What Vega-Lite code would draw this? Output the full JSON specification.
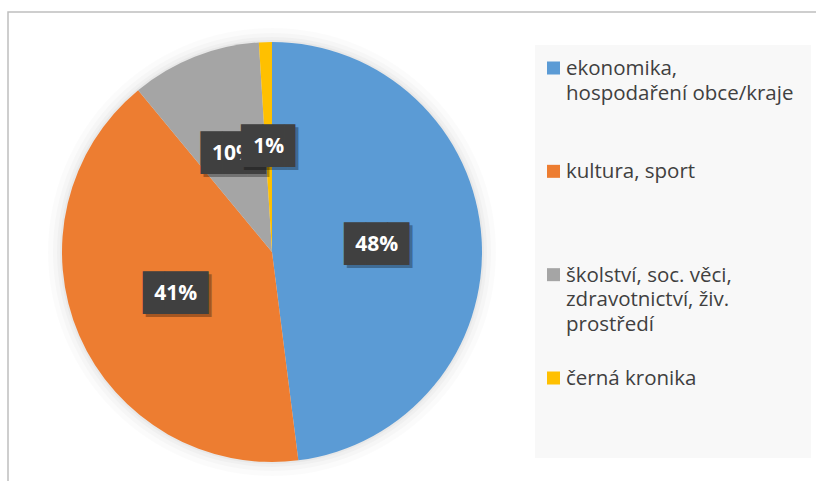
{
  "$schema": "https://vega.github.io/schema/vega-lite/v6.json",
  "width": 816,
  "height": 481,
  "autosize": {"type": "fit", "contains": "padding"},
  "padding": {"left": 8, "top": 12, "right": -12, "bottom": -20},
  "background": "#FFFFFF",
  "config": {"view": {"stroke": "#BFBFBF", "strokeWidth": 1.5}},
  "data": {
    "values": [
      {"kategorie": "ekonomika, hospodaření obce/kraje", "popisek": "ekonomika,\nhospodaření obce/kraje", "podil": 0.48},
      {"kategorie": "kultura, sport", "popisek": "kultura, sport", "podil": 0.41},
      {"kategorie": "školství, soc. věci, zdravotnictví, živ. prostředí", "popisek": "školství, soc. věci,\nzdravotnictví, živ.\nprostředí", "podil": 0.10},
      {"kategorie": "černá kronika", "popisek": "černá kronika", "podil": 0.01}
    ]
  },
  "layer": [
    {
      "data": {"values": [{}]},
      "mark": {"type": "rect", "x": 527, "x2": 803, "y": 33, "y2": 446, "fill": "#F8F8F8"},
      "encoding": {}
    },
    {
      "data": {"values": [{}]},
      "mark": {"type": "arc", "x": 264, "y": 240, "outerRadius": 224, "theta": 6.2832, "fill": "#000000", "fillOpacity": 0.015},
      "encoding": {}
    },
    {
      "data": {"values": [{}]},
      "mark": {"type": "arc", "x": 264, "y": 240, "outerRadius": 219, "theta": 6.2832, "fill": "#000000", "fillOpacity": 0.02},
      "encoding": {}
    },
    {
      "data": {"values": [{}]},
      "mark": {"type": "arc", "x": 264, "y": 240, "outerRadius": 215, "theta": 6.2832, "fill": "#000000", "fillOpacity": 0.025},
      "encoding": {}
    },
    {
      "data": {"values": [{}]},
      "mark": {"type": "arc", "x": 264, "y": 240, "outerRadius": 212, "theta": 6.2832, "fill": "#000000", "fillOpacity": 0.03},
      "encoding": {}
    },
    {
      "mark": {"type": "arc", "x": 264, "y": 240, "outerRadius": 210},
      "encoding": {
        "theta": {"field": "podil", "type": "quantitative", "stack": true},
        "order": {"field": "podil", "sort": "descending"},
        "color": {
          "field": "kategorie", "type": "nominal", "legend": null,
          "scale": {
            "domain": ["ekonomika, hospodaření obce/kraje", "kultura, sport", "školství, soc. věci, zdravotnictví, živ. prostředí", "černá kronika"],
            "range": ["#5B9BD5", "#ED7D31", "#A5A5A5", "#FFC000"]
          }
        }
      }
    },
    {
      "mark": {"type": "text", "x": 264, "y": 240, "radius": 105, "dx": 3, "dy": 3, "font": "DejaVu Sans Mono", "fontSize": 36, "align": "center", "baseline": "middle", "color": "#000000"},
      "encoding": {
        "theta": {"field": "podil", "type": "quantitative", "stack": true},
        "order": {"field": "podil", "sort": "descending"},
        "text": {"value": "███"},
        "opacity": {"condition": {"test": "datum.podil < 0.05", "value": 0}, "value": 0.3}
      }
    },
    {
      "mark": {"type": "text", "x": 264, "y": 240, "radius": 105, "font": "DejaVu Sans Mono", "fontSize": 36, "align": "center", "baseline": "middle", "color": "#404040"},
      "encoding": {
        "theta": {"field": "podil", "type": "quantitative", "stack": true},
        "order": {"field": "podil", "sort": "descending"},
        "text": {"value": "███"},
        "opacity": {"condition": {"test": "datum.podil < 0.05", "value": 0}, "value": 1}
      }
    },
    {
      "mark": {"type": "text", "x": 264, "y": 240, "radius": 105, "font": "Open Sans", "fontSize": 21, "fontWeight": "bold", "align": "center", "baseline": "middle", "color": "#FFFFFF"},
      "encoding": {
        "theta": {"field": "podil", "type": "quantitative", "stack": true},
        "order": {"field": "podil", "sort": "descending"},
        "text": {"field": "podil", "type": "quantitative", "format": ".0%"},
        "opacity": {"condition": {"test": "datum.podil < 0.05", "value": 0}, "value": 1}
      }
    },
    {
      "mark": {"type": "text", "x": 264, "y": 240, "radius": 105, "dx": 8, "dy": 3, "font": "DejaVu Sans Mono", "fontSize": 36, "align": "center", "baseline": "middle", "color": "#000000"},
      "encoding": {
        "theta": {"field": "podil", "type": "quantitative", "stack": true},
        "order": {"field": "podil", "sort": "descending"},
        "text": {"value": "██▌"},
        "opacity": {"condition": {"test": "datum.podil < 0.05", "value": 0.3}, "value": 0}
      }
    },
    {
      "mark": {"type": "text", "x": 264, "y": 240, "radius": 105, "dx": 5, "font": "DejaVu Sans Mono", "fontSize": 36, "align": "center", "baseline": "middle", "color": "#404040"},
      "encoding": {
        "theta": {"field": "podil", "type": "quantitative", "stack": true},
        "order": {"field": "podil", "sort": "descending"},
        "text": {"value": "██▌"},
        "opacity": {"condition": {"test": "datum.podil < 0.05", "value": 1}, "value": 0}
      }
    },
    {
      "mark": {"type": "text", "x": 264, "y": 240, "radius": 105, "font": "Open Sans", "fontSize": 21, "fontWeight": "bold", "align": "center", "baseline": "middle", "color": "#FFFFFF"},
      "encoding": {
        "theta": {"field": "podil", "type": "quantitative", "stack": true},
        "order": {"field": "podil", "sort": "descending"},
        "text": {"field": "podil", "type": "quantitative", "format": ".0%"},
        "opacity": {"condition": {"test": "datum.podil < 0.05", "value": 1}, "value": 0}
      }
    },
    {
      "mark": {"type": "square", "x": 545.5, "size": 169, "filled": true, "opacity": 1},
      "encoding": {
        "y": {
          "field": "kategorie", "type": "nominal", "axis": null,
          "scale": {"type": "point", "domain": ["ekonomika, hospodaření obce/kraje", "kultura, sport", "školství, soc. věci, zdravotnictví, živ. prostředí", "černá kronika"], "range": [56, 366], "padding": 0}
        },
        "color": {"field": "kategorie", "type": "nominal", "legend": null}
      }
    },
    {
      "mark": {"type": "text", "x": 558, "align": "left", "baseline": "alphabetic", "dy": 7, "font": "Open Sans", "fontSize": 20.5, "lineHeight": 24.5, "lineBreak": "\n", "color": "#404040"},
      "encoding": {
        "y": {"field": "kategorie", "type": "nominal", "axis": null},
        "text": {"field": "popisek", "type": "nominal"}
      }
    }
  ]
}
